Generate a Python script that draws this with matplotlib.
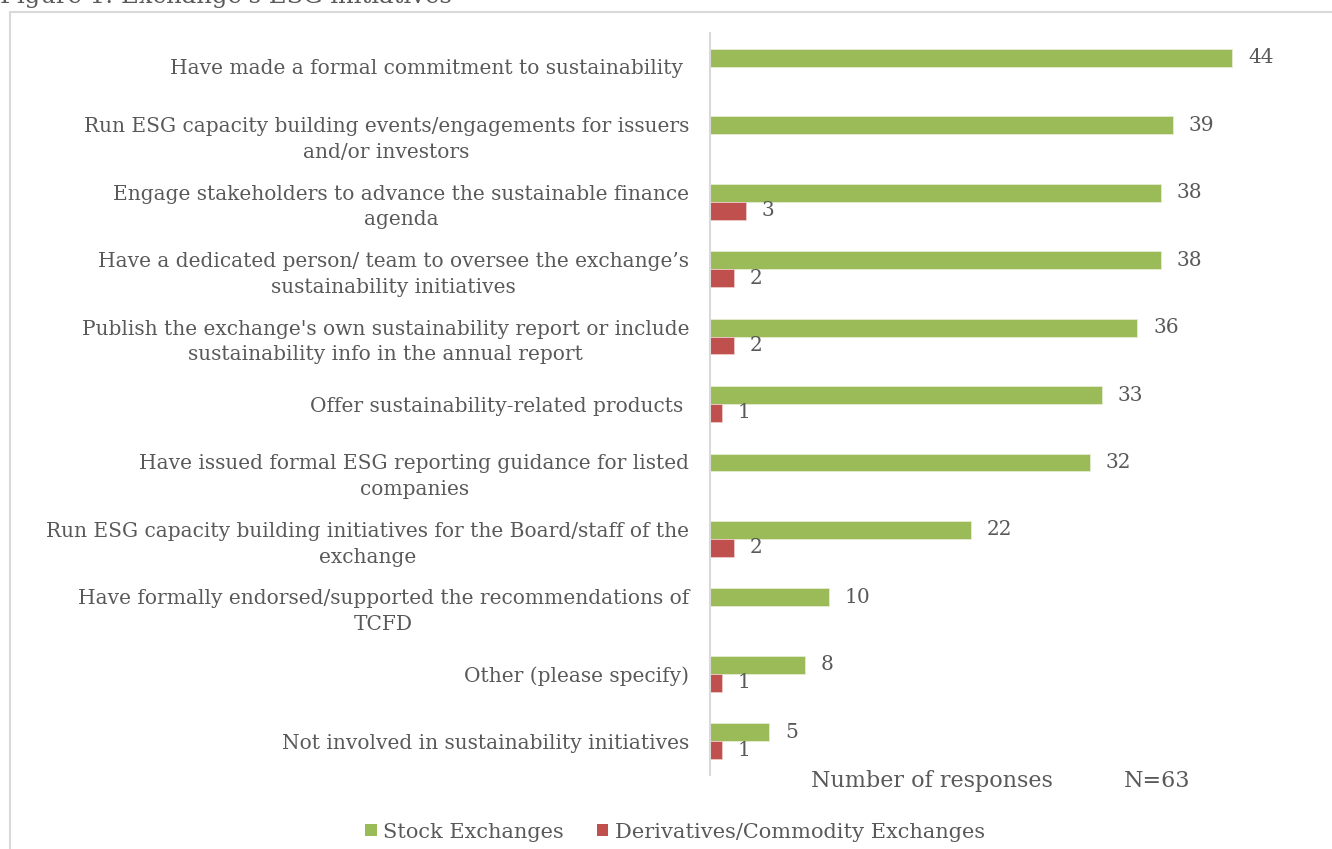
import matplotlib
matplotlib.use("Agg")
import matplotlib.pyplot as plt
from matplotlib.patches import Patch
from matplotlib.lines import Line2D

categories = [
    "Have made a formal commitment to sustainability ",
    "Run ESG capacity building events/engagements for issuers\nand/or investors",
    "Engage stakeholders to advance the sustainable finance\nagenda",
    "Have a dedicated person/ team to oversee the exchange\u2019s\nsustainability initiatives",
    "Publish the exchange's own sustainability report or include\nsustainability info in the annual report",
    "Offer sustainability-related products ",
    "Have issued formal ESG reporting guidance for listed\ncompanies",
    "Run ESG capacity building initiatives for the Board/staff of the\nexchange",
    "Have formally endorsed/supported the recommendations of\nTCFD",
    "Other (please specify)",
    "Not involved in sustainability initiatives",
]
stock = [44, 39, 38, 38, 36, 33, 32, 22, 10, 8, 5]
deriv = [None, None, 3, 2, 2, 1, None, 2, None, 1, 1]

series_names = ["Stock Exchanges", "Derivatives/Commodity Exchanges"]
GREEN = "#9BBB59"
RED = "#C0504D"
TXT = "#595959"
FONT = "DejaVu Serif"

W, H = 1332, 849
fig = plt.figure(figsize=(W / 100, H / 100), dpi=100)
plt.rcParams["font.family"] = FONT

# plot area in pixel units
ax_l, ax_r, ax_t, ax_b = 710, 1300, 33, 775
ax = fig.add_axes([ax_l / W, 1 - ax_b / H, (ax_r - ax_l) / W, (ax_b - ax_t) / H])
px_per_unit = (1232 - 710) / 44.0
ax.set_xlim(0, (ax_r - ax_l) / px_per_unit)
n = len(categories)
ax.set_ylim(n - 0.5, -0.5)

bh = 0.265
for i, (s, d) in enumerate(zip(stock, deriv)):
    ax.barh(i - bh / 2, s, height=bh, color=GREEN, edgecolor="#e4edd2", linewidth=0.6)
    ax.text(s + 1.35, i - bh / 2, str(s), va="center", ha="left",
            fontsize=14.5, color=TXT)
    if d is not None:
        ax.barh(i + bh / 2, d, height=bh, color=RED, edgecolor="#edc9c8", linewidth=0.6)
        ax.text(d + 1.35, i + bh / 2, str(d), va="center", ha="left",
                fontsize=14.5, color=TXT)

ax.set_yticks(range(n))
ax.set_yticklabels(categories, fontsize=14.5, color=TXT, ha="right",
                   multialignment="center", linespacing=1.45)
ax.tick_params(axis="y", length=0, pad=15)
ax.set_xticks([])
for side in ["top", "right", "bottom"]:
    ax.spines[side].set_visible(False)
ax.spines["left"].set_color("#d9d9d9")
ax.spines["left"].set_linewidth(1.5)
ax.patch.set_alpha(0)

# axis title and sample size
fig.text(932 / W, 1 - 781 / H, "Number of responses", ha="center", va="center",
         fontsize=16, color=TXT)
fig.text(1157 / W, 1 - 781 / H, "N=63", ha="center", va="center",
         fontsize=16, color=TXT)

# outer frame
fig.add_artist(Line2D([10 / W, 1.0], [1 - 12 / H, 1 - 12 / H],
                      transform=fig.transFigure, color="#d9d9d9", lw=1.5))
fig.add_artist(Line2D([10 / W, 10 / W], [1 - 12 / H, 0.0],
                      transform=fig.transFigure, color="#d9d9d9", lw=1.5))

# figure caption (partly above the canvas)
fig.text(0 / W, 1 - 3 / H, "Figure 1: Exchange's ESG initiatives", ha="left",
         va="baseline", fontsize=17.5, color=TXT)

handles = [Patch(facecolor=GREEN, edgecolor="none"),
           Patch(facecolor=RED, edgecolor="none")]
fig.legend(handles, series_names, loc="center", bbox_to_anchor=(675 / W, 1 - 832 / H),
           ncol=2, frameon=False, fontsize=15, handlelength=0.55, handleheight=0.55,
           handletextpad=0.3, columnspacing=1.6, labelcolor=TXT)

fig.savefig("out.png", dpi=100, facecolor="white")
